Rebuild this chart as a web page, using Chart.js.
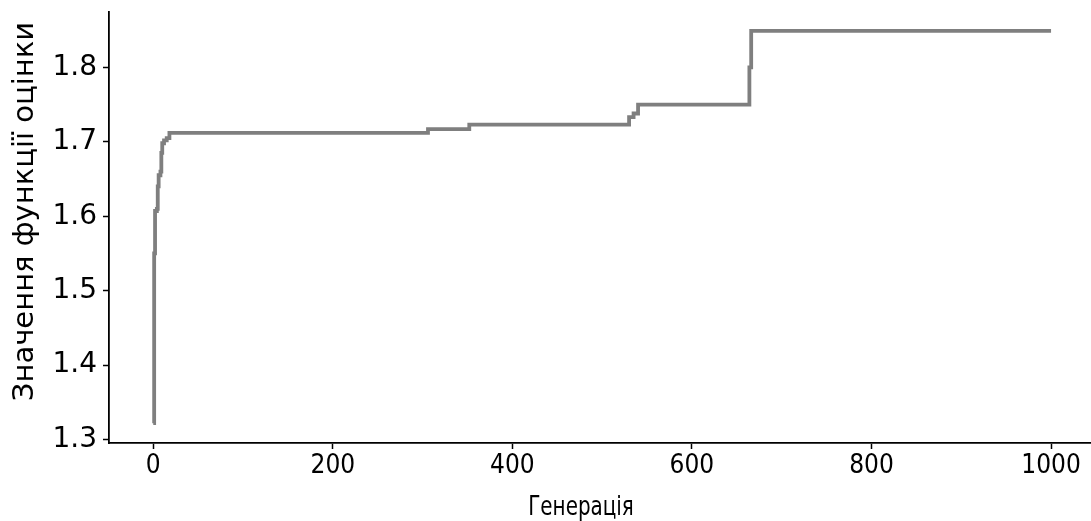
<!DOCTYPE html>
<html>
<head>
<meta charset="utf-8">
<script src="https://cdn.jsdelivr.net/npm/chart.js@4.4.0/dist/chart.umd.min.js"></script>
<style>
  html, body { margin: 0; padding: 0; background: #fff; }
  canvas { display: block; }
</style>
</head>
<body>
<canvas id="fitnessChart" width="1091" height="521"></canvas>
<script>
// generations where the best value changed, and the value from that generation on
const generations = [0, 1, 2, 4, 5, 6, 8, 9, 10, 12, 15, 18, 306, 352, 530, 535, 540, 664, 666, 1000];
const fitness = [1.322, 1.55, 1.607, 1.61, 1.64, 1.655, 1.66, 1.685, 1.698, 1.702, 1.705, 1.712, 1.717, 1.723, 1.733, 1.738, 1.750, 1.80, 1.849, 1.849];

const xTicks = [0, 200, 400, 600, 800, 1000];
const yTicks = [1.3, 1.4, 1.5, 1.6, 1.7, 1.8];

const xTitle = "Генерація";
const yTitle = "Значення функції оцінки";

const narrow = "'DejaVu Sans Condensed', 'Liberation Sans Narrow', 'DejaVu Sans'";

function fixedTicks(values) {
  return function (scale) {
    scale.ticks = values.map((v) => ({ value: v }));
  };
}

// axis titles drawn by hand, the originals sit a little off-centre
const axisTitles = {
  id: "axisTitles",
  afterDraw(chart) {
    const { ctx, chartArea } = chart;
    ctx.save();
    ctx.fillStyle = "#000";
    ctx.textAlign = "center";
    ctx.textBaseline = "middle";

    ctx.save();
    ctx.font = "27px " + narrow;
    ctx.translate((chartArea.left + chartArea.right) / 2 - 19, chartArea.bottom + 65);
    ctx.scale(0.82, 1); // the x-axis text in the original is squeezed
    ctx.fillText(xTitle, 0, 0);
    ctx.restore();

    ctx.font = "29px 'DejaVu Sans'";
    ctx.translate(25, (chartArea.top + chartArea.bottom) / 2 - 16);
    ctx.rotate(-Math.PI / 2);
    ctx.fillText(yTitle, 0, 0);
    ctx.restore();
  },
};

const points = generations.map((g, i) => ({ x: g, y: fitness[i] }));

const ctx = document.getElementById("fitnessChart").getContext("2d");
new Chart(ctx, {
  type: "line",
  data: {
    datasets: [
      {
        data: points,
        borderColor: "#7f7f7f",
        borderWidth: 3.8,
        pointRadius: 0,
        stepped: "before",
        fill: false,
      },
    ],
  },
  options: {
    responsive: false,
    animation: false,
    layout: { padding: { top: 12, right: 0, left: 0, bottom: 0 } },
    plugins: {
      legend: { display: false },
      tooltip: { enabled: false },
    },
    scales: {
      x: {
        type: "linear",
        min: -49.3,
        max: 1044.5,
        afterBuildTicks: fixedTicks(xTicks),
        afterFit: (scale) => {
          scale.height = 78;
        },
        grid: {
          display: true,
          drawOnChartArea: false,
          drawTicks: true,
          tickLength: 6,
          tickColor: "#000",
          tickWidth: 1.5,
        },
        border: { display: true, color: "#000", width: 1.8 },
        ticks: {
          color: "#000",
          font: { family: narrow, size: 26 },
          padding: 2,
          maxRotation: 0,
          callback: (v) => String(v),
        },
      },
      y: {
        type: "linear",
        min: 1.2954,
        max: 1.8743,
        afterBuildTicks: fixedTicks(yTicks),
        afterFit: (scale) => {
          scale.width = 109;
          scale.paddingTop = 0;
          scale.paddingBottom = 0;
        },
        grid: {
          display: true,
          drawOnChartArea: false,
          drawTicks: true,
          tickLength: 6,
          tickColor: "#000",
          tickWidth: 1.5,
        },
        border: { display: true, color: "#000", width: 1.8 },
        ticks: {
          color: "#000",
          font: { family: "DejaVu Sans", size: 28 },
          padding: 6,
          callback: (v) => v.toFixed(1),
        },
      },
    },
  },
  plugins: [axisTitles],
});
</script>
</body>
</html>
